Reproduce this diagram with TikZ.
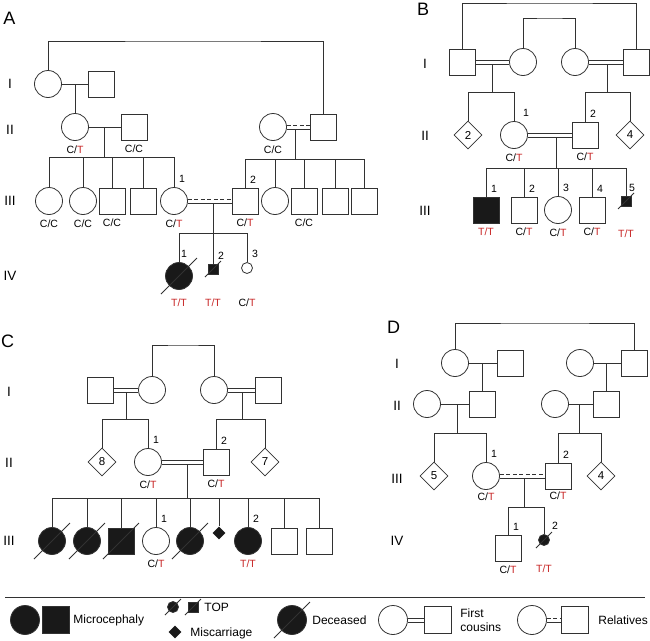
\documentclass[tikz,border=0pt]{standalone}
\usepackage{fontspec}
\setmainfont{Liberation Sans}
\usetikzlibrary{shapes.geometric, calc}
\usepackage{xcolor}
\definecolor{genored}{RGB}{200,40,40}
\definecolor{pline}{RGB}{50,50,50}
\newcommand{\gtfont}{\fontsize{10.5}{12}\selectfont}
\newcommand{\rT}{\textcolor{genored}{T}}
\newcommand{\CT}{C/\rT}
\newcommand{\CC}{C/C}
\newcommand{\TT}{\textcolor{genored}{T/T}}
\tikzset{female/.style={circle, draw=pline, line width=0.8pt, minimum size=27pt, inner sep=0pt},male/.style={rectangle, draw=pline, line width=0.8pt, minimum size=26pt, inner sep=0pt}}
\tikzset{anysex/.style={diamond, draw=pline, line width=0.8pt, minimum size=28pt, inner sep=0pt, font=\fontsize{11.5}{12}\selectfont},affected/.style={fill=black!90}}
\tikzset{smallfemale/.style={circle, draw=pline, line width=0.8pt, minimum size=11pt, inner sep=0pt},smallmale/.style={rectangle, draw=pline, line width=0.8pt, minimum size=10pt, inner sep=0pt}}
\newcommand{\deadmark}[2]{\draw[pline, line width=1pt] ($(#1)+(-#2,#2)$) -- ($(#1)+(#2,-#2)$);}
\newcommand{\cousins}[2]{\draw[pline, transform canvas={yshift=2pt}] (#1) -- (#2); \draw[pline, transform canvas={yshift=-2pt}] (#1) -- (#2);}
\newcommand{\relatives}[2]{\draw[pline, dash pattern=on 4pt off 2.5pt, transform canvas={yshift=2pt}] (#1) -- (#2); \draw[pline, transform canvas={yshift=-2pt}] (#1) -- (#2);}

\begin{document}
\begin{tikzpicture}[
        x=1pt, y=-1pt,
        line width=0.8pt,
        link/.style={draw=pline},
        label distance=2pt,
        miscarriage/.style={diamond, fill=black!90, minimum size=13pt, inner sep=0pt},
        geno/.style={font=\gtfont, inner sep=0.5pt, yshift=-2pt},
        num/.style={font=\gtfont, inner sep=0.5pt, xshift=8pt, yshift=1.5pt},
        genlab/.style={font=\fontsize{13.5}{14}\selectfont},
        panel/.style={font=\fontsize{18}{18}\selectfont},
        legtext/.style={font=\fontsize{12}{14}\selectfont, anchor=west, inner sep=0pt},
    ]
        \useasboundingbox (0,0) rectangle (650,640);
        % Panel A
        \node[panel] (Alab) at (9.5,18.5) {A};
        \foreach \g/\y in {I/84, II/130, III/201, IV/276} {
            \node[genlab] (Ag\g) at (10,\y) {\g};
        }
        \node[female] (A1a) at (48,84) {};
        \node[male] (A1b) at (101,84) {};
        \node[female, label={[geno]below:\CT}] (A2a) at (75,127) {};
        \node[male, label={[geno]below:\CC}] (A2b) at (134,127) {};
        \node[female, label={[geno]below:\CC}] (A2c) at (273,127) {};
        \node[male] (A2d) at (323,127) {};
        \node[female, label={[geno]below:\CC}] (A3a) at (49,201) {};
        \node[female, label={[geno]below:\CC}] (A3b) at (83,201) {};
        \node[male, label={[geno]below:\CC}] (A3c) at (112,201) {};
        \node[male] (A3d) at (143,201) {};
        \node[female, label={[num]above:1}, label={[geno]below:\CT}] (A3e) at (174,201) {};
        \node[male, label={[num]above:2}, label={[geno]below:\CT}] (A3f) at (245,201) {};
        \node[female] (A3g) at (275,201) {};
        \node[male, label={[geno]below:\CC}] (A3h) at (304,201) {};
        \node[male] (A3i) at (335,201) {};
        \node[male] (A3j) at (364,201) {};
        \node[female, affected, label={[num, xshift=-3pt]above:1}, label={[geno, yshift=-4pt]below:\TT}] (A4a) at (179,276) {};
        \node[smallmale, affected, label={[num]above:2}, label={[geno, yshift=-19.5pt]below:\TT}] (A4b) at (213,269) {};
        \node[smallfemale, label={[num]above:3}, label={[geno, yshift=-20pt]below:\CT}] (A4c) at (247,268) {};
        \deadmark{A4a}{18}
        \deadmark{A4b}{8}
        \coordinate (Atop) at (200,41);
        \draw[link] (A1a) |- (Atop) -| (A2d);
        \draw[link] (A1a) -- (A1b);
        \coordinate (Am1) at (75,84);
        \draw[link] (Am1) -- (A2a);
        \draw[link] (A2a) -- (A2b);
        \coordinate (Am2) at (104,127);
        \coordinate (As2) at (104,157);
        \draw[link] (Am2) -- (As2);
        \draw[link] (A3a |- As2) -- (A3e |- As2);
        \foreach \k in {A3a,A3b,A3c,A3d,A3e} {
            \draw[link] (\k) -- (\k |- As2);
        }
        \relatives{A2c}{A2d}
        \coordinate (Am3) at (295,129);
        \coordinate (As3) at (295,159);
        \draw[link] (Am3) -- (As3);
        \draw[link] (A3f |- As3) -- (A3j |- As3);
        \foreach \k in {A3f,A3g,A3h,A3i,A3j} {
            \draw[link] (\k) -- (\k |- As3);
        }
        \relatives{A3e}{A3f}
        \coordinate (Am4) at (213,203);
        \coordinate (As4) at (213,233);
        \draw[link] (Am4) -- (As4);
        \draw[link] (A4a |- As4) -- (A4c |- As4);
        \foreach \k in {A4a,A4b,A4c} {
            \draw[link] (\k) -- (\k |- As4);
        }
        % Panel B
        \node[panel] (Blab) at (423,9.5) {B};
        \foreach \g/\y in {I/64, II/136, III/211} {
            \node[genlab] (Bg\g) at (425,\y) {\g};
        }
        \node[male] (B1a) at (462,62) {};
        \node[female] (B1b) at (523,62) {};
        \node[female] (B1c) at (575,62) {};
        \node[male] (B1d) at (636,62) {};
        \node[anysex] (B2a) at (468,135) {2};
        \node[female, label={[num, xshift=4pt]above:1}, label={[geno]below:\CT}] (B2b) at (514,135) {};
        \node[male, label={[num]above:2}, label={[geno]below:\CT}] (B2c) at (585,135) {};
        \node[anysex] (B2d) at (630,135) {4};
        \node[male, affected, label={[num]above:1}, label={[geno]below:\TT}] (B3a) at (486,210) {};
        \node[male, label={[num]above:2}, label={[geno]below:\CT}] (B3b) at (524,210) {};
        \node[female, label={[num]above:3}, label={[geno]below:\CT}] (B3c) at (558,210) {};
        \node[male, label={[num]above:4}, label={[geno]below:\CT}] (B3d) at (592,210) {};
        \node[smallmale, affected, label={[num, xshift=-2pt]above:5}, label={[geno, yshift=-18.5pt]below:\TT}] (B3e) at (626,201) {};
        \deadmark{B3e}{8}
        \coordinate (Btop1) at (550,3);
        \draw[link] (B1a) |- (Btop1) -| (B1d);
        \coordinate (Btop2) at (550,18);
        \draw[link] (B1b) |- (Btop2) -| (B1c);
        \cousins{B1a}{B1b}
        \coordinate (Bm1) at (492,64);
        \coordinate (Bs1) at (492,92);
        \draw[link] (Bm1) -- (Bs1);
        \draw[link] (B2a |- Bs1) -- (B2b |- Bs1);
        \foreach \k in {B2a,B2b} {
            \draw[link] (\k) -- (\k |- Bs1);
        }
        \cousins{B1c}{B1d}
        \coordinate (Bm2) at (607,64);
        \coordinate (Bs2) at (607,92);
        \draw[link] (Bm2) -- (Bs2);
        \draw[link] (B2c |- Bs2) -- (B2d |- Bs2);
        \foreach \k in {B2c,B2d} {
            \draw[link] (\k) -- (\k |- Bs2);
        }
        \cousins{B2b}{B2c}
        \coordinate (Bm3) at (556,137);
        \coordinate (Bs3) at (556,168);
        \draw[link] (Bm3) -- (Bs3);
        \draw[link] (B3a |- Bs3) -- (B3e |- Bs3);
        \foreach \k in {B3a,B3b,B3c,B3d,B3e} {
            \draw[link] (\k) -- (\k |- Bs3);
        }
        % Panel C
        \node[panel] (Clab) at (7.5,341) {C};
        \foreach \g/\y in {I/392, II/463, III/541} {
            \node[genlab] (Cg\g) at (9,\y) {\g};
        }
        \node[male] (C1a) at (100,390) {};
        \node[female] (C1b) at (152,390) {};
        \node[female] (C1c) at (214,390) {};
        \node[male] (C1d) at (268,390) {};
        \node[anysex] (C2a) at (102,462) {8};
        \node[female, label={[num]above:1}, label={[geno]below:\CT}] (C2b) at (148,462) {};
        \node[male, label={[num]above:2}, label={[geno]below:\CT}] (C2c) at (216,462) {};
        \node[anysex] (C2d) at (265,462) {7};
        \node[female, affected] (C3a) at (52,541) {};
        \node[female, affected] (C3b) at (87,541) {};
        \node[male, affected] (C3c) at (121,541) {};
        \node[female, label={[num]above:1}, label={[geno]below:\CT}] (C3d) at (156,541) {};
        \node[female, affected] (C3e) at (190,541) {};
        \node[miscarriage] (C3f) at (219,533) {};
        \node[female, affected, label={[num]above:2}, label={[geno]below:\TT}] (C3g) at (248,541) {};
        \node[male] (C3h) at (284,541) {};
        \node[male] (C3i) at (319,541) {};
        \foreach \k in {C3a,C3b,C3c,C3e} {
            \deadmark{\k}{18}
        }
        \coordinate (Ctop) at (183,345);
        \draw[link] (C1b) |- (Ctop) -| (C1c);
        \cousins{C1a}{C1b}
        \coordinate (Cm1) at (126,392);
        \coordinate (Cs1) at (126,419);
        \draw[link] (Cm1) -- (Cs1);
        \draw[link] (C2a |- Cs1) -- (C2b |- Cs1);
        \foreach \k in {C2a,C2b} {
            \draw[link] (\k) -- (\k |- Cs1);
        }
        \cousins{C1c}{C1d}
        \coordinate (Cm2) at (242,392);
        \coordinate (Cs2) at (242,419);
        \draw[link] (Cm2) -- (Cs2);
        \draw[link] (C2c |- Cs2) -- (C2d |- Cs2);
        \foreach \k in {C2c,C2d} {
            \draw[link] (\k) -- (\k |- Cs2);
        }
        \cousins{C2b}{C2c}
        \coordinate (Cm3) at (187,464);
        \coordinate (Cs3) at (187,498);
        \draw[link] (Cm3) -- (Cs3);
        \draw[link] (C3a |- Cs3) -- (C3i |- Cs3);
        \foreach \k in {C3a,C3b,C3c,C3d,C3e,C3f,C3g,C3h,C3i} {
            \draw[link] (\k) -- (\k |- Cs3);
        }
        % Panel D
        \node[panel] (Dlab) at (393.5,327.5) {D};
        \foreach \g/\y in {I/363.5, II/406, III/479, IV/541} {
            \node[genlab] (Dg\g) at (397,\y) {\g};
        }
        \node[female] (D1a) at (455,363) {};
        \node[male] (D1b) at (510,363) {};
        \node[female] (D1c) at (580,363) {};
        \node[male] (D1d) at (634,363) {};
        \node[female] (D2a) at (427,404) {};
        \node[male] (D2b) at (482,404) {};
        \node[female] (D2c) at (555,404) {};
        \node[male] (D2d) at (606,404) {};
        \node[anysex] (D3a) at (434,476) {5};
        \node[female, label={[num]above:1}, label={[geno, yshift=2pt]below:\CT}] (D3b) at (486,476) {};
        \node[male, label={[num]above:2}, label={[geno, yshift=2pt]below:\CT}] (D3c) at (558,476) {};
        \node[anysex] (D3d) at (601,476) {4};
        \node[male, label={[num]above:1}, label={[geno]below:\CT}] (D4a) at (508,548) {};
        \node[smallfemale, affected, label={[num, xshift=3pt]above:2}, label={[geno, yshift=-14pt]below:\TT}] (D4b) at (544,540) {};
        \deadmark{D4b}{8}
        \coordinate (Dtop) at (545,323);
        \draw[link] (D1a) |- (Dtop) -| (D1d);
        \draw[link] (D1a) -- (D1b);
        \coordinate (Dm1) at (482,363);
        \draw[link] (Dm1) -- (D2b);
        \draw[link] (D1c) -- (D1d);
        \coordinate (Dm2) at (606,363);
        \draw[link] (Dm2) -- (D2d);
        \draw[link] (D2a) -- (D2b);
        \coordinate (Dm3) at (457,404);
        \coordinate (Ds3) at (457,433);
        \draw[link] (Dm3) -- (Ds3);
        \draw[link] (D3a |- Ds3) -- (D3b |- Ds3);
        \foreach \k in {D3a,D3b} {
            \draw[link] (\k) -- (\k |- Ds3);
        }
        \draw[link] (D2c) -- (D2d);
        \coordinate (Dm4) at (579,404);
        \coordinate (Ds4) at (579,433);
        \draw[link] (Dm4) -- (Ds4);
        \draw[link] (D3c |- Ds4) -- (D3d |- Ds4);
        \foreach \k in {D3c,D3d} {
            \draw[link] (\k) -- (\k |- Ds4);
        }
        \relatives{D3b}{D3c}
        \coordinate (Dm5) at (524,478);
        \coordinate (Ds5) at (524,507);
        \draw[link] (Dm5) -- (Ds5);
        \draw[link] (D4a |- Ds5) -- (D4b |- Ds5);
        \foreach \k in {D4a,D4b} {
            \draw[link] (\k) -- (\k |- Ds5);
        }
        % Legend
        \draw[link] (5,597) -- (645,597);
        \node[female, affected, minimum size=29pt] (Lf) at (25,620) {};
        \node[male, affected, minimum size=27pt] (Lm) at (56,620) {};
        \node[legtext] (Lmic) at (73,620) {Microcephaly};
        \node[smallfemale, affected] (Ltf) at (173,607) {};
        \node[smallmale, affected] (Ltm) at (193,607) {};
        \deadmark{Ltf}{8}
        \deadmark{Ltm}{8}
        \node[legtext] (Ltop) at (204,607) {TOP};
        \node[miscarriage] (Lmis) at (175,632) {};
        \node[legtext] (Lmist) at (190,633) {Miscarriage};
        \node[female, affected, minimum size=29pt] (Ldec) at (292,620) {};
        \deadmark{Ldec}{18}
        \node[legtext] (Ldect) at (312,620) {Deceased};
        \node[female, minimum size=29pt] (Lcf) at (393,620) {};
        \node[male, minimum size=27pt] (Lcm) at (438,620) {};
        \cousins{Lcf}{Lcm}
        \node[legtext, align=left] (Lcous) at (460,620) {First\\cousins};
        \node[female, minimum size=29pt] (Lrf) at (532,620) {};
        \node[male, minimum size=27pt] (Lrm) at (575,620) {};
        \relatives{Lrf}{Lrm}
        \node[legtext] (Lrel) at (598,620) {Relatives};
    \end{tikzpicture}
\end{document}
